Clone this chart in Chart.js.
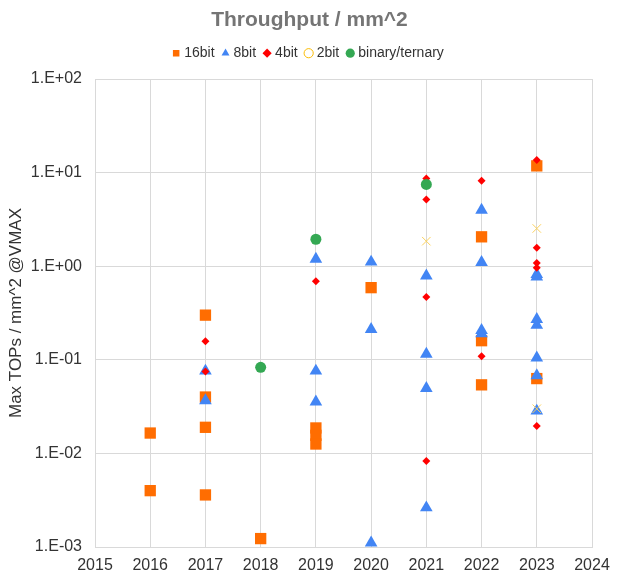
<!DOCTYPE html>
<html>
<head>
<meta charset="utf-8">
<script src="https://cdn.jsdelivr.net/npm/chart.js@4/dist/chart.umd.min.js"></script>
<style>
  html, body { margin: 0; padding: 0; background: #fff; }
  #wrap { width: 619px; height: 580px; }
</style>
</head>
<body>
<div id="wrap"><canvas id="chart" width="619" height="580"></canvas></div>
<script>
// series names, in legend order
const seriesNames = ['16bit', '8bit', '4bit', '2bit', 'binary/ternary'];

// 16bit (squares)
const bit16Years  = [2016, 2016, 2017, 2017, 2017, 2017, 2018, 2019, 2019, 2019, 2020, 2022, 2022, 2022, 2023, 2023];
const bit16Values = [0.0165, 0.0040, 0.30, 0.040, 0.019, 0.0036, 0.00123, 0.0187, 0.0156, 0.0126, 0.59, 2.06, 0.16, 0.054, 11.8, 0.063];

// 8bit (triangles)
const bit8Years  = [2017, 2017, 2019, 2019, 2019, 2020, 2020, 2020, 2021, 2021, 2021, 2021, 2022, 2022, 2022, 2022, 2023, 2023, 2023, 2023, 2023, 2023, 2023];
const bit8Values = [0.076, 0.0366, 1.19, 0.076, 0.0355, 1.11, 0.212, 0.00111, 0.79, 0.115, 0.0496, 0.00263, 3.97, 1.10, 0.207, 0.19, 0.82, 0.77, 0.27, 0.235, 0.105, 0.068, 0.0284];

// 4bit (diamonds)
const bit4Years  = [2017, 2017, 2019, 2021, 2021, 2021, 2021, 2022, 2022, 2023, 2023, 2023, 2023, 2023];
const bit4Values = [0.158, 0.075, 0.69, 8.67, 5.17, 0.47, 0.0083, 8.17, 0.109, 13.6, 1.57, 1.08, 0.96, 0.0196];

// 2bit (crosses)
const bit2Years  = [2021, 2023, 2023];
const bit2Values = [1.85, 2.53, 0.030];

// binary / ternary (circles)
const binYears  = [2018, 2019, 2021];
const binValues = [0.083, 1.94, 7.48];

// axis ticks
const yearTicks = [2015, 2016, 2017, 2018, 2019, 2020, 2021, 2022, 2023, 2024];
const decadeTicks = [0.001, 0.01, 0.1, 1, 10, 100];

function toPoints(xs, ys) {
  return xs.map((x, i) => ({ x: x, y: ys[i] }));
}

function sciLabel(v) {
  const e = Math.round(Math.log10(v));
  const s = e < 0 ? '-' : '+';
  const n = String(Math.abs(e)).padStart(2, '0');
  return '1.E' + s + n;
}

const fontFamily = 'Liberation Sans, Arial, sans-serif';
const textColor = '#333333';
const gridColor = '#d9d9d9';

// force the legend box height so the plot starts where the reference does
const legendHeight = {
  id: 'legendHeight',
  beforeInit(chart) {
    const legend = chart.legend;
    if (!legend) return;
    const fit = legend.fit;
    legend.fit = function () {
      fit.call(this);
      this.height = 42.8;
    };
  }
};

new Chart(document.getElementById('chart'), {
  type: 'scatter',
  data: {
    datasets: [
      {
        label: seriesNames[0],
        data: toPoints(bit16Years, bit16Values),
        pointStyle: 'rect',
        pointRadius: 8,
        backgroundColor: '#ff6d01',
        borderColor: '#ff6d01',
        borderWidth: 0,
        order: 5
      },
      {
        label: seriesNames[1],
        data: toPoints(bit8Years, bit8Values),
        pointStyle: 'triangle',
        pointRadius: 7.3,
        backgroundColor: '#4285f4',
        borderColor: '#4285f4',
        borderWidth: 0,
        order: 4
      },
      {
        label: seriesNames[2],
        data: toPoints(bit4Years, bit4Values),
        pointStyle: 'rectRot',
        pointRadius: 4,
        backgroundColor: '#ff0000',
        borderColor: '#ff0000',
        borderWidth: 0,
        order: 3
      },
      {
        label: seriesNames[3],
        data: toPoints(bit2Years, bit2Values),
        pointStyle: 'crossRot',
        pointRadius: 6,
        backgroundColor: '#ffffff',
        borderColor: '#fbd15c',
        borderWidth: 1,
        order: 2
      },
      {
        label: seriesNames[4],
        data: toPoints(binYears, binValues),
        pointStyle: 'circle',
        pointRadius: 5.5,
        backgroundColor: '#34a853',
        borderColor: '#34a853',
        borderWidth: 0,
        order: 1
      }
    ]
  },
  options: {
    responsive: false,
    animation: false,
    layout: { padding: 0 },
    plugins: {
      title: {
        display: true,
        text: 'Throughput / mm^2',
        color: '#757575',
        font: { family: fontFamily, size: 21, weight: 'bold' },
        padding: { top: 8, bottom: 3 }
      },
      legend: {
        display: true,
        position: 'top',
        labels: {
          usePointStyle: true,
          boxWidth: 2,
          boxHeight: 6.5,
          padding: 10,
          color: textColor,
          font: { family: fontFamily, size: 14 },
          sort: (a, b) => a.datasetIndex - b.datasetIndex,
          generateLabels(chart) {
            const items = Chart.defaults.plugins.legend.labels.generateLabels(chart);
            items.forEach(it => {
              if (it.text === '2bit') {
                it.pointStyle = 'circle';
                it.fillStyle = '#ffffff';
                it.strokeStyle = '#fbbc04';
                it.lineWidth = 1;
              }
            });
            return items;
          }
        }
      },
      tooltip: { enabled: false }
    },
    scales: {
      x: {
        type: 'linear',
        min: 2015,
        max: 2024,
        afterBuildTicks(scale) {
          scale.ticks = yearTicks.map(v => ({ value: v }));
        },
        afterFit(scale) { scale.height = 33; },
        ticks: {
          color: textColor,
          font: { family: fontFamily, size: 16 },
          padding: 9,
          maxRotation: 0,
          callback: v => String(v)
        },
        grid: { color: gridColor, drawTicks: false },
        border: { color: gridColor }
      },
      y: {
        type: 'logarithmic',
        min: 0.001,
        max: 100,
        afterBuildTicks(scale) {
          scale.ticks = decadeTicks.map(v => ({ value: v }));
        },
        afterFit(scale) { scale.width = 95; },
        ticks: {
          color: textColor,
          font: { family: fontFamily, size: 16 },
          padding: 13,
          callback: v => sciLabel(v)
        },
        grid: { color: gridColor, drawTicks: false },
        border: { color: gridColor },
        title: {
          display: true,
          text: 'Max TOPs / mm^2 @VMAX',
          color: textColor,
          font: { family: fontFamily, size: 17 },
          padding: { top: 6, bottom: 0 }
        }
      },
      // empty axis on the right, only to keep the right margin
      yRight: {
        type: 'linear',
        position: 'right',
        display: true,
        afterFit(scale) { scale.width = 27; },
        ticks: { display: false },
        grid: { display: false, drawTicks: false },
        border: { display: false }
      }
    }
  },
  plugins: [legendHeight]
});
</script>
</body>
</html>
